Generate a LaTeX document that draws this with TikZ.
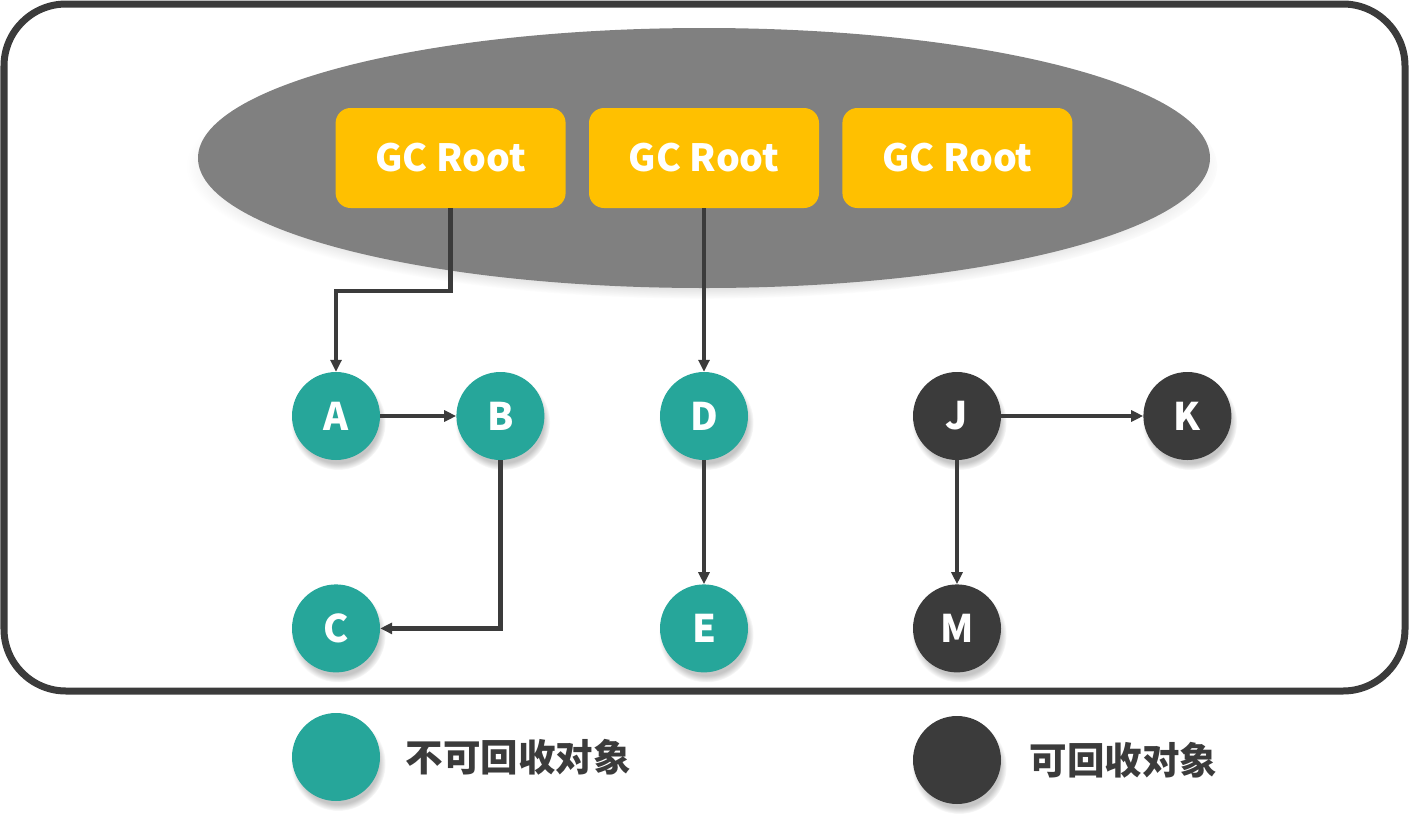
\documentclass[tikz,border=0pt]{standalone}
\usepackage{fontspec}
\setmainfont{Noto Sans CJK SC}
\usepackage{tikz}
\usetikzlibrary{shapes.geometric,arrows.meta,positioning,shadows}
\definecolor{teal}{RGB}{38, 166, 154}
\definecolor{dark}{RGB}{59, 59, 59}
\definecolor{amber}{RGB}{255, 192, 0}
\definecolor{pool}{RGB}{128, 128, 128}
\tikzstyle{root} = [rectangle, rounded corners=15pt, fill=amber, text=white, font=\bfseries\fontsize{37.5}{40}\selectfont, minimum width=230pt, minimum height=100pt]
\tikzstyle{live} = [circle, fill=teal, text=white, font=\bfseries\fontsize{38}{40}\selectfont, minimum size=88pt, inner sep=0pt, circular drop shadow={shadow xshift=2pt, shadow yshift=-6pt, shadow scale=1.08, opacity=0.45}]
\tikzstyle{dead} = [live, fill=dark]
\tikzstyle{legend} = [draw=none, fill=none, text=dark, font=\bfseries\fontsize{37.5}{40}\selectfont, anchor=west]
\tikzstyle{ref} = [draw=dark, line width=4.5pt, -{Triangle[length=12pt,width=11pt]}]

\begin{document}
\begin{tikzpicture}[x=1pt, y=-1pt]
\useasboundingbox (0,0) rectangle (1409,820);

% frame =============================
\draw[dark, line width=7pt, rounded corners=62pt] (4,4) rectangle (1405,691);

% gc roots
\node[ellipse, fill=pool, minimum width=1012pt, minimum height=260pt, circular drop shadow={shadow xshift=0pt, shadow yshift=-8pt, shadow scale=1.02, opacity=0.4}] (heap) at (704,158) {};
\node[root] (r2) at (704,158) {GC Root};
\node[root, left=23pt of r2] (r1) {GC Root};
\node[root, right=23pt of r2] (r3) {GC Root};

% objects
\node[live] (A) at (336,416) {A};
\node[live, right=76pt of A] (B) {B};
\node[live, below=124pt of A] (C) {C};
\node[live] (D) at (704,416) {D};
\node[live, below=124pt of D] (E) {E};
\node[dead] (J) at (957,416) {J};
\node[dead, right=142pt of J] (K) {K};
\node[dead, below=124pt of J] (M) {M};

% legend
\node[live] (kept) at (336,757) {};
\node[legend, right=22pt of kept] (keptl) {不可回收对象};
\node[dead] (freed) at (957,760) {};
\node[legend, right=25pt of freed] (freedl) {可回收对象};

% references
\draw[ref] (r1.south) |- (393.5,291) -| (A.north);
\draw[ref] (r2.south) -- (D.north);
\draw[ref] (A) -- (B);
\draw[ref] (B.south) |- (C.east);
\draw[ref] (D) -- (E);
\draw[ref] (J) -- (K);
\draw[ref] (J) -- (M);

\end{tikzpicture}
\end{document}
